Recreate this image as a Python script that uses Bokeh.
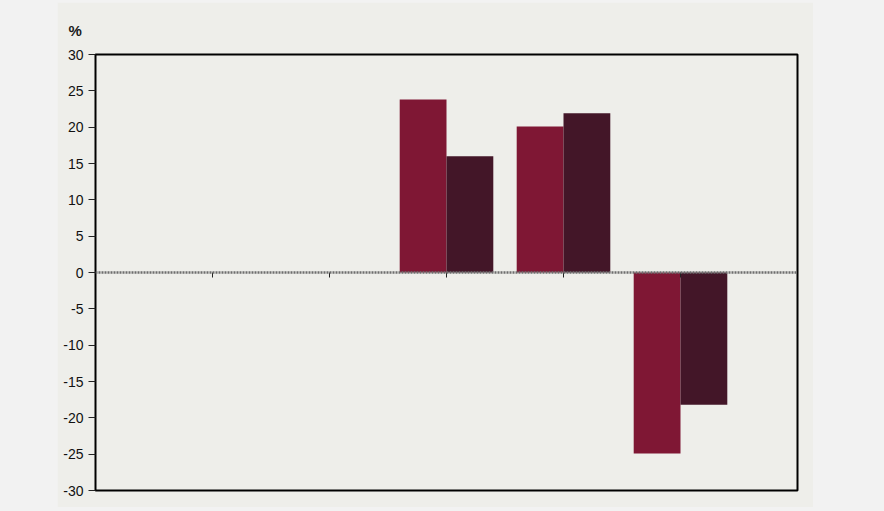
import numpy as np
from bokeh.plotting import figure
from bokeh.layouts import row, column
from bokeh.models import (Range1d, FixedTicker, LinearAxis, Span, Spacer,
                          ColumnDataSource)
from bokeh.transform import dodge
from bokeh.embed import file_html
from bokeh.resources import INLINE

# ---- data ----
positions = [1, 2, 3, 4, 5]
series_a = [np.nan, np.nan, 23.8, 20.1, -24.9]
series_b = [np.nan, np.nan, 16.0, 21.9, -18.2]
y_ticks = [-30, -25, -20, -15, -10, -5, 0, 5, 10, 15, 20, 25, 30]
y_tick_labels = ["-30", "-25", "-20", "-15", "-10", "-5", "0", "5", "10", "15", "20", "25", "30"]
unit_label = "%"

COL_A = "#7f1734"
COL_B = "#431628"
PANEL = "#eeeeea"
OUTER = "#f2f2f2"

src = ColumnDataSource(dict(x=positions, a=series_a, b=series_b))

p = figure(width=756, height=505, output_backend="svg", toolbar_location=None,
           x_range=Range1d(0, 6), y_range=Range1d(-30, 30),
           min_border_left=38, min_border_right=16, min_border_top=52,
           min_border_bottom=17)
p.background_fill_color = PANEL
p.border_fill_color = PANEL
p.outline_line_color = "black"
p.outline_line_width = 2
p.grid.visible = False
p.xaxis.visible = False

p.title.text = unit_label
p.title.align = "left"
p.title.offset = -27
p.title.standoff = 32
p.title.text_line_height = 0.8
p.title.text_font = "Liberation Sans"
p.title.text_font_size = "15px"
p.title.text_font_style = "bold"
p.title.text_color = "#1a1a1a"

yax = p.yaxis[0]
yax.ticker = FixedTicker(ticks=y_ticks)
yax.major_label_overrides = {t: s for t, s in zip(y_ticks, y_tick_labels)}
yax.axis_line_color = None
yax.major_tick_out = 7
yax.major_tick_in = 0
yax.minor_tick_line_color = None
yax.major_tick_line_color = "#222222"
yax.major_label_text_font = "Liberation Sans"
yax.major_label_text_font_size = "14px"
yax.major_label_text_color = "#111111"
yax.major_label_standoff = 5

p.vbar(x=dodge("x", -0.2, range=p.x_range), top="a", bottom=0, width=0.4,
       source=src, fill_color=COL_A, line_color=None)
p.vbar(x=dodge("x", 0.2, range=p.x_range), top="b", bottom=0, width=0.4,
       source=src, fill_color=COL_B, line_color=None)

p.add_layout(Span(location=0, dimension="width", line_color="#6e6e6e",
                  line_width=2.5, line_dash="2 1"))

xax = LinearAxis(fixed_location=0, ticker=FixedTicker(ticks=positions),
                 axis_line_color=None, major_tick_in=0, major_tick_out=5,
                 major_tick_line_color="#222222", minor_tick_line_color=None,
                 major_label_overrides={t: "" for t in positions})
p.add_layout(xax, "below")

bg = {"background-color": OUTER}
layout = column(Spacer(width=884, height=2, styles=bg),
                row(Spacer(width=57, height=505, styles=bg),
                    p,
                    Spacer(width=71, height=505, styles=bg),
                    styles=bg),
                Spacer(width=884, height=4, styles=bg),
                styles=bg)

open("out.html", "w").write(file_html(layout, INLINE))
